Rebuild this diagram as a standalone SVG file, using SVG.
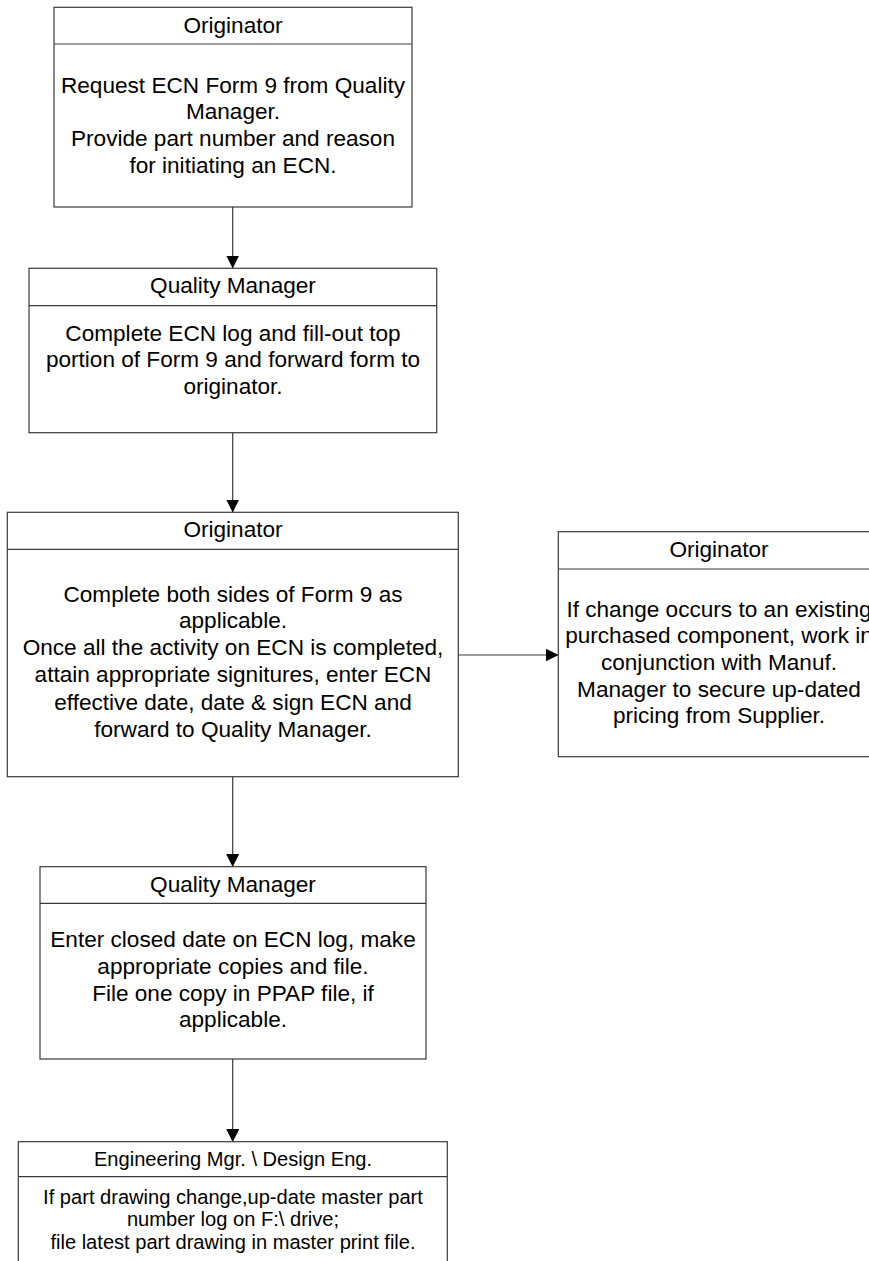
<svg xmlns="http://www.w3.org/2000/svg" width="869" height="1261" viewBox="0 0 869 1261">
  <style>
    .box { fill: #ffffff; stroke: #3a3a3a; stroke-width: 1.2; }
    .div { stroke: #3a3a3a; stroke-width: 1.2; }
    .t { font-family: "Liberation Sans", Arial, sans-serif; font-size: 22.6px; fill: #000; text-anchor: middle; }
    .s { font-family: "Liberation Sans", Arial, sans-serif; font-size: 20.1px; fill: #000; text-anchor: middle; }
    .conn { stroke: #3a3a3a; stroke-width: 1.2; fill: none; marker-end: url(#arrow); }
  </style>
  <defs>
    <marker id="arrow" markerWidth="13" markerHeight="13" refX="12.5" refY="6.5" orient="auto" markerUnits="userSpaceOnUse">
      <path d="M0,0 L13,6.5 L0,13 Z" fill="#000"/>
    </marker>
  </defs>
  <rect width="869" height="1261" fill="#ffffff"/>

  <!-- connectors -->
  <g id="connectors">
    <line class="conn" x1="232.7" y1="207" x2="232.7" y2="268"/>
    <line class="conn" x1="232.7" y1="433" x2="232.7" y2="512"/>
    <line class="conn" x1="458.5" y1="655" x2="558" y2="655"/>
    <line class="conn" x1="232.7" y1="777" x2="232.7" y2="866.5"/>
    <line class="conn" x1="232.7" y1="1059" x2="232.7" y2="1141.5"/>
  </g>

  <!-- step 1: originator requests form -->
  <g id="node-originator-request">
    <rect class="box" x="54" y="7.3" width="358" height="199.7"/>
    <line class="div" x1="54" y1="44" x2="412" y2="44"/>
    <text class="t" x="233" y="33.3">Originator</text>
    <text class="t" x="233" y="92.7">Request ECN Form 9 from Quality</text>
    <text class="t" x="233" y="119.3">Manager.</text>
    <text class="t" x="233" y="146">Provide part number and reason</text>
    <text class="t" x="233" y="172.7">for initiating an ECN.</text>
  </g>

  <!-- step 2: quality manager logs ECN -->
  <g id="node-qm-log">
    <rect class="box" x="29" y="268.3" width="407.7" height="164.4"/>
    <line class="div" x1="29" y1="305.7" x2="436.7" y2="305.7"/>
    <text class="t" x="233" y="293.3">Quality Manager</text>
    <text class="t" x="233" y="340.7">Complete ECN log and fill-out top</text>
    <text class="t" x="233" y="367.3">portion of Form 9 and forward form to</text>
    <text class="t" x="233" y="394">originator.</text>
  </g>

  <!-- step 3: originator completes form -->
  <g id="node-originator-complete">
    <rect class="box" x="7.3" y="512.3" width="451" height="264.4"/>
    <line class="div" x1="7.3" y1="549.3" x2="458.3" y2="549.3"/>
    <text class="t" x="233" y="536.7">Originator</text>
    <text class="t" x="233" y="601.7">Complete both sides of Form 9 as</text>
    <text class="t" x="233" y="628.3">applicable.</text>
    <text class="t" x="233" y="655.3">Once all the activity on ECN is completed,</text>
    <text class="t" x="233" y="682.3">attain appropriate signitures, enter ECN</text>
    <text class="t" x="233" y="709.7">effective date, date &amp; sign ECN and</text>
    <text class="t" x="233" y="737">forward to Quality Manager.</text>
  </g>

  <!-- side step: purchased component pricing -->
  <g id="node-originator-pricing">
    <rect class="box" x="558.3" y="531.7" width="322" height="225"/>
    <line class="div" x1="558.3" y1="569" x2="880.3" y2="569"/>
    <text class="t" x="719" y="556.7">Originator</text>
    <text class="t" x="719" y="616.7">If change occurs to an existing</text>
    <text class="t" x="719" y="643.3">purchased component, work in</text>
    <text class="t" x="719" y="670">conjunction with Manuf.</text>
    <text class="t" x="719" y="696.7">Manager to secure up-dated</text>
    <text class="t" x="719" y="723.3">pricing from Supplier.</text>
  </g>

  <!-- step 4: quality manager closes ECN -->
  <g id="node-qm-close">
    <rect class="box" x="40" y="866.7" width="386" height="192.3"/>
    <line class="div" x1="40" y1="903.3" x2="426" y2="903.3"/>
    <text class="t" x="233" y="891.7">Quality Manager</text>
    <text class="t" x="233" y="946.7">Enter closed date on ECN log, make</text>
    <text class="t" x="233" y="973.7">appropriate copies and file.</text>
    <text class="t" x="233" y="1000.7">File one copy in PPAP file, if</text>
    <text class="t" x="233" y="1027.3">applicable.</text>
  </g>

  <!-- step 5: engineering updates drawings -->
  <g id="node-engineering">
    <rect class="box" x="18.3" y="1141.7" width="429" height="140"/>
    <line class="div" x1="18.3" y1="1176.7" x2="447.3" y2="1176.7"/>
    <text class="s" x="233" y="1165.7">Engineering Mgr. \ Design Eng.</text>
    <text class="s" x="233" y="1204">If part drawing change,up-date master part</text>
    <text class="s" x="233" y="1226.3">number log on F:\ drive;</text>
    <text class="s" x="233" y="1248.7">file latest part drawing in master print file.</text>
  </g>
</svg>
